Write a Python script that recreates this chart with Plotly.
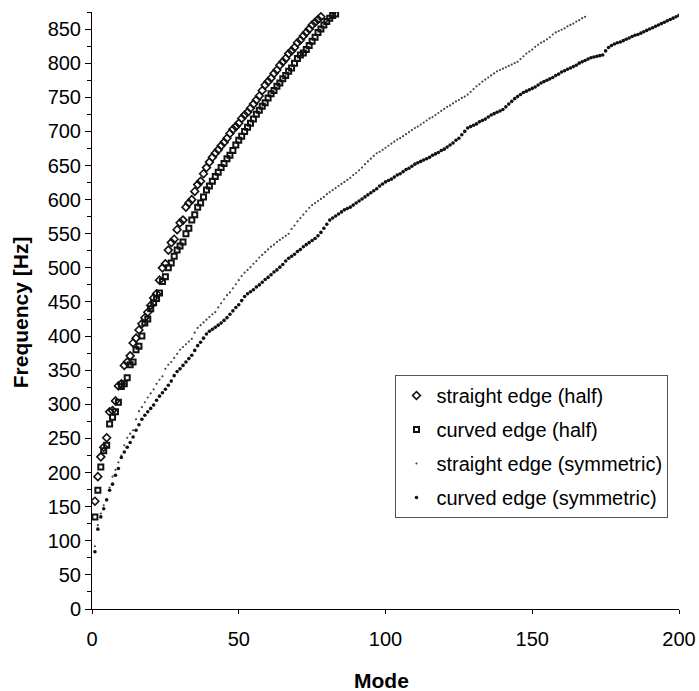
import plotly.graph_objects as go

# ---- data ----
straight_half = [158, 194, 223, 237, 251, 289, 291, 305, 327, 330, 357, 362, 371, 390, 397, 409, 418, 427, 435, 445,
                 456, 462, 482, 500, 506, 526, 537, 542, 556, 566, 570, 589, 595, 600, 612, 622, 627, 638, 647, 655,
                 662, 668, 673, 679, 684, 690, 697, 703, 707, 712, 719, 724, 728, 734, 740, 746, 752, 760, 768, 773,
                 778, 785, 790, 797, 802, 807, 814, 818, 823, 830, 834, 840, 845, 850, 856, 860, 864, 868]
straight_half_modes = list(range(1, len(straight_half) + 1))

curved_half = [135, 174, 208, 232, 240, 271, 281, 289, 303, 326, 330, 339, 358, 362, 380, 385, 400, 419, 425, 440,
               449, 455, 463, 480, 487, 500, 507, 517, 526, 532, 538, 550, 558, 570, 578, 589, 595, 604, 614, 620,
               627, 634, 640, 647, 653, 660, 665, 672, 680, 687, 693, 700, 706, 712, 718, 725, 731, 737, 742, 749,
               755, 760, 766, 771, 777, 782, 788, 793, 800, 807, 812, 815, 820, 826, 832, 838, 845, 850, 856, 861,
               866, 870, 872]
curved_half_modes = list(range(1, len(curved_half) + 1))

straight_sym = [92, 123, 140, 152, 160, 178, 194, 204, 215, 225, 240, 251, 257, 262, 278, 290, 296, 303, 310, 316,
                322, 330, 336, 341, 352, 358, 362, 368, 374, 380, 384, 388, 392, 396, 405, 412, 416, 420, 424, 428,
                432, 435, 442, 448, 454, 460, 464, 470, 476, 482, 488, 493, 497, 501, 506, 510, 515, 519, 523, 527,
                531, 534, 538, 541, 544, 547, 550, 557, 562, 568, 573, 578, 583, 588, 592, 595, 598, 601, 604, 608,
                611, 614, 617, 620, 623, 626, 629, 632, 636, 639, 643, 647, 652, 656, 660, 664, 668, 670, 673, 676,
                679, 682, 685, 688, 690, 693, 696, 699, 702, 705, 707, 710, 713, 716, 719, 721, 724, 727, 730, 733,
                736, 738, 741, 744, 746, 749, 751, 754, 758, 762, 766, 769, 773, 776, 779, 782, 785, 788, 790, 792,
                794, 796, 798, 800, 802, 806, 810, 814, 817, 820, 824, 827, 830, 832, 835, 838, 842, 845, 847, 849,
                851, 854, 856, 858, 861, 863, 866, 868]
straight_sym_modes = list(range(1, len(straight_sym) + 1))

curved_sym = [84, 117, 135, 147, 160, 174, 183, 196, 206, 222, 230, 237, 244, 252, 262, 270, 278, 284, 289, 294,
              299, 306, 312, 317, 322, 328, 334, 342, 348, 352, 357, 362, 367, 372, 379, 386, 391, 397, 403, 407,
              410, 413, 416, 419, 423, 427, 432, 437, 442, 446, 452, 458, 462, 465, 468, 472, 475, 479, 483, 486,
              490, 494, 497, 501, 505, 510, 514, 517, 520, 524, 527, 531, 534, 537, 540, 543, 547, 552, 558, 564,
              570, 573, 576, 579, 582, 585, 587, 589, 592, 595, 598, 601, 604, 607, 610, 613, 616, 620, 623, 626,
              628, 630, 633, 636, 638, 641, 644, 646, 649, 652, 654, 656, 658, 660, 662, 665, 667, 669, 672, 674,
              677, 680, 683, 687, 690, 695, 700, 705, 707, 709, 711, 714, 716, 718, 721, 724, 726, 728, 730, 732,
              736, 740, 744, 748, 751, 754, 757, 759, 761, 763, 765, 768, 771, 773, 775, 777, 779, 782, 784, 787,
              789, 791, 793, 795, 797, 800, 802, 804, 806, 808, 809, 810, 811, 812, 818, 823, 826, 828, 830, 831,
              833, 835, 837, 839, 841, 842, 844, 846, 848, 850, 852, 854, 856, 858, 860, 862, 864, 866, 868, 870]
curved_sym_modes = list(range(1, len(curved_sym) + 1))

x_ticks = [0, 50, 100, 150, 200]
y_ticks = list(range(0, 851, 50))
x_title = "Mode"
y_title = "Frequency [Hz]"

FONT = "Liberation Sans, Arial, sans-serif"

fig = go.Figure()
fig.add_trace(go.Scatter(
    x=straight_half_modes, y=straight_half, mode="markers", name="straight edge (half)",
    legendgroup="a",
    marker=dict(symbol="diamond-open", size=6, color="#111111", line=dict(width=1.6, color="#111111"))))
fig.add_trace(go.Scatter(
    x=curved_half_modes, y=curved_half, mode="markers", name="curved edge (half)",
    legendgroup="b",
    marker=dict(symbol="square-open", size=5, color="#111111", line=dict(width=2, color="#111111"))))
fig.add_trace(go.Scatter(
    x=straight_sym_modes, y=straight_sym, mode="markers", name="straight edge (symmetric)",
    legendgroup="c",
    marker=dict(symbol="circle", size=2.2, color="#444444", line=dict(width=0))))
fig.add_trace(go.Scatter(
    x=curved_sym_modes, y=curved_sym, mode="markers", name="curved edge (symmetric)",
    legendgroup="d",
    marker=dict(symbol="circle", size=3.6, color="#111111", line=dict(width=0))))

fig.update_layout(
    width=699, height=691,
    margin=dict(l=92, r=20, t=12, b=82, autoexpand=False),
    paper_bgcolor="white", plot_bgcolor="white",
    font=dict(family=FONT, size=20, color="black"),
    legend=dict(
        x=0.517, y=0.392, xanchor="left", yanchor="top",
        bgcolor="white", bordercolor="#555555", borderwidth=1,
        font=dict(family=FONT, size=20, color="black"),
        tracegroupgap=5, itemsizing="trace", itemwidth=30,
    ),
    annotations=[
        dict(text="<b>" + x_title + "</b>", xref="paper", yref="paper", x=0.494, y=-0.119,
             xanchor="center", yanchor="middle", showarrow=False,
             font=dict(family=FONT, size=21, color="black")),
        dict(text="<b>" + y_title + "</b>", xref="paper", yref="paper", x=-0.1227, y=0.497,
             xanchor="center", yanchor="middle", showarrow=False, textangle=-90,
             font=dict(family=FONT, size=21, color="black")),
    ],
)
fig.update_xaxes(
    range=[0, 200], tickvals=x_ticks, ticktext=[str(v) for v in x_ticks],
    showline=True, linecolor="black", linewidth=1, mirror=False,
    showgrid=False, zeroline=False, automargin=False,
    ticks="outside", ticklen=4, tickcolor="black", ticklabelstandoff=8,
    tickfont=dict(family=FONT, size=20, color="black"),
)
fig.update_yaxes(
    range=[0, 875], tickvals=y_ticks, ticktext=[str(v) for v in y_ticks],
    showline=True, linecolor="black", linewidth=1, mirror=False,
    showgrid=False, zeroline=False, automargin=False,
    ticks="outside", ticklen=6, tickcolor="black",
    minor=dict(dtick=25, tick0=0, ticks="outside", ticklen=4, tickcolor="black", showgrid=False),
    tickfont=dict(family=FONT, size=20, color="black"),
)

fig.write_html("out.html")
